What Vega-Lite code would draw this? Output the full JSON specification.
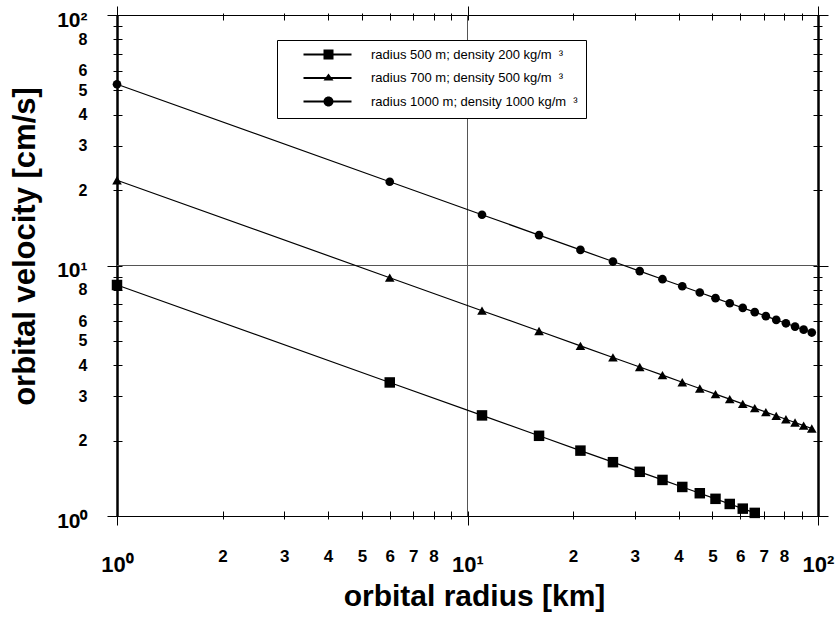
{
  "$schema": "https://vega.github.io/schema/vega-lite/v6.json",
  "width": 701,
  "height": 501,
  "autosize": "none",
  "padding": {"left": 117, "top": 15, "right": 22, "bottom": 103},
  "background": "white",
  "config": {
    "view": {"stroke": "black", "strokeWidth": 1},
    "font": "Liberation Sans",
    "axis": {
      "labelFont": "Liberation Sans",
      "labelFontWeight": "bold",
      "labelColor": "black",
      "tickColor": "black",
      "domainColor": "black",
      "titleColor": "black",
      "titleFont": "Liberation Sans",
      "grid": false,
      "labelOverlap": false,
      "labelFlush": false,
      "labelBound": false
    }
  },
  "datasets": {
    "grid": [{"v": 10}],
    "curves": [
      {"series": "radius 500 m; density 200 kg/m\u00a0\u00a0³", "r": 1, "v": 8.36},
      {"series": "radius 500 m; density 200 kg/m\u00a0\u00a0³", "r": 6, "v": 3.413},
      {"series": "radius 500 m; density 200 kg/m\u00a0\u00a0³", "r": 11, "v": 2.521},
      {"series": "radius 500 m; density 200 kg/m\u00a0\u00a0³", "r": 16, "v": 2.09},
      {"series": "radius 500 m; density 200 kg/m\u00a0\u00a0³", "r": 21, "v": 1.824},
      {"series": "radius 500 m; density 200 kg/m\u00a0\u00a0³", "r": 26, "v": 1.64},
      {"series": "radius 500 m; density 200 kg/m\u00a0\u00a0³", "r": 31, "v": 1.501},
      {"series": "radius 500 m; density 200 kg/m\u00a0\u00a0³", "r": 36, "v": 1.393},
      {"series": "radius 500 m; density 200 kg/m\u00a0\u00a0³", "r": 41, "v": 1.306},
      {"series": "radius 500 m; density 200 kg/m\u00a0\u00a0³", "r": 46, "v": 1.233},
      {"series": "radius 500 m; density 200 kg/m\u00a0\u00a0³", "r": 51, "v": 1.171},
      {"series": "radius 500 m; density 200 kg/m\u00a0\u00a0³", "r": 56, "v": 1.117},
      {"series": "radius 500 m; density 200 kg/m\u00a0\u00a0³", "r": 61, "v": 1.07},
      {"series": "radius 500 m; density 200 kg/m\u00a0\u00a0³", "r": 66, "v": 1.029},
      {"series": "radius 700 m; density 500 kg/m\u00a0\u00a0³", "r": 1, "v": 21.9},
      {"series": "radius 700 m; density 500 kg/m\u00a0\u00a0³", "r": 6, "v": 8.94},
      {"series": "radius 700 m; density 500 kg/m\u00a0\u00a0³", "r": 11, "v": 6.6},
      {"series": "radius 700 m; density 500 kg/m\u00a0\u00a0³", "r": 16, "v": 5.475},
      {"series": "radius 700 m; density 500 kg/m\u00a0\u00a0³", "r": 21, "v": 4.779},
      {"series": "radius 700 m; density 500 kg/m\u00a0\u00a0³", "r": 26, "v": 4.295},
      {"series": "radius 700 m; density 500 kg/m\u00a0\u00a0³", "r": 31, "v": 3.933},
      {"series": "radius 700 m; density 500 kg/m\u00a0\u00a0³", "r": 36, "v": 3.65},
      {"series": "radius 700 m; density 500 kg/m\u00a0\u00a0³", "r": 41, "v": 3.42},
      {"series": "radius 700 m; density 500 kg/m\u00a0\u00a0³", "r": 46, "v": 3.229},
      {"series": "radius 700 m; density 500 kg/m\u00a0\u00a0³", "r": 51, "v": 3.067},
      {"series": "radius 700 m; density 500 kg/m\u00a0\u00a0³", "r": 56, "v": 2.927},
      {"series": "radius 700 m; density 500 kg/m\u00a0\u00a0³", "r": 61, "v": 2.804},
      {"series": "radius 700 m; density 500 kg/m\u00a0\u00a0³", "r": 66, "v": 2.696},
      {"series": "radius 700 m; density 500 kg/m\u00a0\u00a0³", "r": 71, "v": 2.599},
      {"series": "radius 700 m; density 500 kg/m\u00a0\u00a0³", "r": 76, "v": 2.512},
      {"series": "radius 700 m; density 500 kg/m\u00a0\u00a0³", "r": 81, "v": 2.433},
      {"series": "radius 700 m; density 500 kg/m\u00a0\u00a0³", "r": 86, "v": 2.362},
      {"series": "radius 700 m; density 500 kg/m\u00a0\u00a0³", "r": 91, "v": 2.296},
      {"series": "radius 700 m; density 500 kg/m\u00a0\u00a0³", "r": 96, "v": 2.235},
      {"series": "radius 1000 m; density 1000 kg/m\u00a0\u00a0³", "r": 1, "v": 52.9},
      {"series": "radius 1000 m; density 1000 kg/m\u00a0\u00a0³", "r": 6, "v": 21.6},
      {"series": "radius 1000 m; density 1000 kg/m\u00a0\u00a0³", "r": 11, "v": 15.95},
      {"series": "radius 1000 m; density 1000 kg/m\u00a0\u00a0³", "r": 16, "v": 13.225},
      {"series": "radius 1000 m; density 1000 kg/m\u00a0\u00a0³", "r": 21, "v": 11.54},
      {"series": "radius 1000 m; density 1000 kg/m\u00a0\u00a0³", "r": 26, "v": 10.37},
      {"series": "radius 1000 m; density 1000 kg/m\u00a0\u00a0³", "r": 31, "v": 9.501},
      {"series": "radius 1000 m; density 1000 kg/m\u00a0\u00a0³", "r": 36, "v": 8.817},
      {"series": "radius 1000 m; density 1000 kg/m\u00a0\u00a0³", "r": 41, "v": 8.262},
      {"series": "radius 1000 m; density 1000 kg/m\u00a0\u00a0³", "r": 46, "v": 7.8},
      {"series": "radius 1000 m; density 1000 kg/m\u00a0\u00a0³", "r": 51, "v": 7.408},
      {"series": "radius 1000 m; density 1000 kg/m\u00a0\u00a0³", "r": 56, "v": 7.069},
      {"series": "radius 1000 m; density 1000 kg/m\u00a0\u00a0³", "r": 61, "v": 6.773},
      {"series": "radius 1000 m; density 1000 kg/m\u00a0\u00a0³", "r": 66, "v": 6.512},
      {"series": "radius 1000 m; density 1000 kg/m\u00a0\u00a0³", "r": 71, "v": 6.278},
      {"series": "radius 1000 m; density 1000 kg/m\u00a0\u00a0³", "r": 76, "v": 6.068},
      {"series": "radius 1000 m; density 1000 kg/m\u00a0\u00a0³", "r": 81, "v": 5.878},
      {"series": "radius 1000 m; density 1000 kg/m\u00a0\u00a0³", "r": 86, "v": 5.704},
      {"series": "radius 1000 m; density 1000 kg/m\u00a0\u00a0³", "r": 91, "v": 5.545},
      {"series": "radius 1000 m; density 1000 kg/m\u00a0\u00a0³", "r": 96, "v": 5.399}
    ]
  },
  "layer": [
    {
      "data": {"name": "grid"},
      "mark": {"type": "rule", "color": "#555555", "strokeWidth": 1},
      "encoding": {
        "x": {
          "field": "v", "type": "quantitative",
          "scale": {"type": "log", "domain": [1, 100], "nice": false},
          "axis": {
            "orient": "bottom",
            "values": [1, 2, 3, 4, 5, 6, 7, 8, 9, 10, 20, 30, 40, 50, 60, 70, 80, 90, 100],
            "ticks": false,
            "domain": false,
            "labelExpr": "datum.value==1?'10⁰':datum.value==10?'10¹':datum.value==100?'10²':(datum.value==9||datum.value==90)?'':datum.value<10?''+datum.value:''+round(datum.value/10)",
            "labelFontSize": {"condition": {"test": "datum.value==1||datum.value==10||datum.value==100", "value": 22}, "value": 17},
            "labelPadding": {"condition": {"test": "datum.value==1||datum.value==10||datum.value==100", "value": 38}, "value": 32},
            "labelBaseline": "top",
            "title": "orbital radius [km]",
            "titleFontSize": 30,
            "titleFontWeight": "bold",
            "titleBaseline": "alphabetic",
            "titleX": 357,
            "titleY": 89
          }
        }
      }
    },
    {
      "data": {"name": "grid"},
      "mark": {"type": "rule", "color": "#555555", "strokeWidth": 1},
      "encoding": {
        "y": {
          "field": "v", "type": "quantitative",
          "scale": {"type": "log", "domain": [1, 100], "nice": false},
          "axis": {
            "orient": "left",
            "values": [1, 2, 3, 4, 5, 6, 7, 8, 9, 10, 20, 30, 40, 50, 60, 70, 80, 90, 100],
            "ticks": false,
            "domain": true,
            "domainWidth": 2.5,
            "labelExpr": "datum.value==1?'10⁰':datum.value==10?'10¹':datum.value==100?'10²':(datum.value==7||datum.value==9||datum.value==70||datum.value==90)?'':datum.value<10?''+datum.value:''+round(datum.value/10)",
            "labelFontSize": {"condition": {"test": "datum.value==1||datum.value==10||datum.value==100", "value": 21}, "value": 16},
            "labelOffset": {"condition": {"test": "datum.value==1||datum.value==10||datum.value==100", "value": 5}, "value": 0},
            "labelPadding": 30,
            "labelBaseline": "middle",
            "title": "orbital velocity [cm/s]",
            "titleFontSize": 31,
            "titleFontWeight": "bold",
            "titleBaseline": "alphabetic",
            "titleAngle": -90,
            "titleX": -83,
            "titleY": 231
          }
        }
      }
    },
    {
      "data": {"name": "grid"},
      "mark": {"type": "rule", "opacity": 0},
      "encoding": {
        "y": {
          "field": "v", "type": "quantitative",
          "scale": {"type": "log", "domain": [1, 100], "nice": false},
          "axis": {"orient": "right", "values": [], "domain": true, "domainWidth": 2.5, "ticks": false, "labels": false, "title": null}
        }
      }
    },
    {
      "data": {"name": "curves"},
      "mark": {"type": "line", "color": "black", "strokeWidth": 1.2},
      "encoding": {
        "x": {
          "field": "r", "type": "quantitative",
          "scale": {"type": "log", "domain": [1, 100], "nice": false},
          "axis": {
            "orient": "bottom", "offset": -5, "domain": false, "labels": false, "title": null,
            "values": [1, 2, 3, 4, 5, 6, 7, 8, 9, 10, 20, 30, 40, 50, 60, 70, 80, 90, 100],
            "tickWidth": 1,
            "tickSize": {"condition": {"test": "datum.value==1||datum.value==10||datum.value==100", "value": 14}, "value": 8}
          }
        },
        "y": {
          "field": "v", "type": "quantitative",
          "scale": {"type": "log", "domain": [1, 100], "nice": false},
          "axis": {
            "orient": "left", "offset": -5, "domain": false, "labels": false, "title": null,
            "values": [1, 2, 3, 4, 5, 6, 7, 8, 9, 10, 20, 30, 40, 50, 60, 70, 80, 90, 100],
            "tickWidth": 1,
            "tickSize": {"condition": {"test": "datum.value==1||datum.value==10||datum.value==100", "value": 15}, "value": 9}
          }
        },
        "detail": {"field": "series", "type": "nominal"}
      }
    },
    {
      "data": {"name": "curves"},
      "mark": {"type": "point", "filled": true, "color": "black", "opacity": 1},
      "encoding": {
        "x": {
          "field": "r", "type": "quantitative",
          "scale": {"type": "log", "domain": [1, 100], "nice": false},
          "axis": {
            "orient": "top", "offset": -5, "domain": false, "labels": false, "title": null,
            "values": [1, 2, 3, 4, 5, 6, 7, 8, 9, 10, 20, 30, 40, 50, 60, 70, 80, 90, 100],
            "tickWidth": 1,
            "tickSize": {"condition": {"test": "datum.value==1||datum.value==10||datum.value==100", "value": 14}, "value": 7}
          }
        },
        "y": {
          "field": "v", "type": "quantitative",
          "scale": {"type": "log", "domain": [1, 100], "nice": false},
          "axis": {
            "orient": "right", "offset": -5, "domain": false, "labels": false, "title": null,
            "values": [1, 2, 3, 4, 5, 6, 7, 8, 9, 10, 20, 30, 40, 50, 60, 70, 80, 90, 100],
            "tickWidth": 1,
            "tickSize": {"condition": {"test": "datum.value==1||datum.value==10||datum.value==100", "value": 15}, "value": 9}
          }
        },
        "shape": {
          "field": "series", "type": "nominal",
          "scale": {
            "domain": ["radius 500 m; density 200 kg/m\u00a0\u00a0³", "radius 700 m; density 500 kg/m\u00a0\u00a0³", "radius 1000 m; density 1000 kg/m\u00a0\u00a0³"],
            "range": ["square", "triangle-up", "circle"]
          },
          "legend": null
        },
        "size": {
          "field": "series", "type": "ordinal",
          "scale": {
            "domain": ["radius 500 m; density 200 kg/m\u00a0\u00a0³", "radius 700 m; density 500 kg/m\u00a0\u00a0³", "radius 1000 m; density 1000 kg/m\u00a0\u00a0³"],
            "range": [110, 75, 90]
          },
          "legend": null
        }
      }
    },
    {
      "data": {"name": "curves"},
      "transform": [{"filter": "false"}],
      "mark": {"type": "point", "filled": true, "color": "black"},
      "encoding": {
        "x": {"field": "r", "type": "quantitative", "scale": {"type": "log", "domain": [1, 100], "nice": false}, "axis": null},
        "y": {"field": "v", "type": "quantitative", "scale": {"type": "log", "domain": [1, 100], "nice": false}, "axis": null},
        "shape": {
          "field": "series", "type": "nominal",
          "scale": {
            "domain": ["radius 500 m; density 200 kg/m\u00a0\u00a0³", "radius 700 m; density 500 kg/m\u00a0\u00a0³", "radius 1000 m; density 1000 kg/m\u00a0\u00a0³"],
            "range": [
              "M2.4,-0.2L12,-0.2L12,0.2L2.4,0.2ZM6.4,-1L8.4,-1L8.4,1L6.4,1Z",
              "M2.4,-0.2L12,-0.2L12,0.2L2.4,0.2ZM7.4,-0.9L8.4,0.5L6.4,0.5Z",
              "M2.4,-0.2L12,-0.2L12,0.2L2.4,0.2ZM8.4,0A1,1,0,1,1,6.4,0A1,1,0,1,1,8.4,0Z"
            ]
          },
          "legend": {
            "title": null,
            "orient": "none",
            "legendX": 160,
            "legendY": 25,
            "padding": 8,
            "strokeColor": "black",
            "fillColor": "white",
            "symbolSize": 100,
            "labelFontSize": 13,
            "labelFont": "Liberation Sans",
            "labelFontWeight": "normal",
            "labelColor": "black",
            "labelOffset": 73,
            "labelLimit": 400,
            "rowPadding": 7.5,
            "symbolFillColor": "black",
            "symbolOpacity": 1,
            "encode": {
              "symbols": {
                "update": {
                  "fill": {"value": "black"},
                  "opacity": {"value": 1}
                }
              }
            }
          }
        }
      }
    }
  ],
  "resolve": {
    "axis": {"x": "independent", "y": "independent"},
    "scale": {"shape": "independent", "size": "independent"},
    "legend": {"shape": "independent"}
  }
}
